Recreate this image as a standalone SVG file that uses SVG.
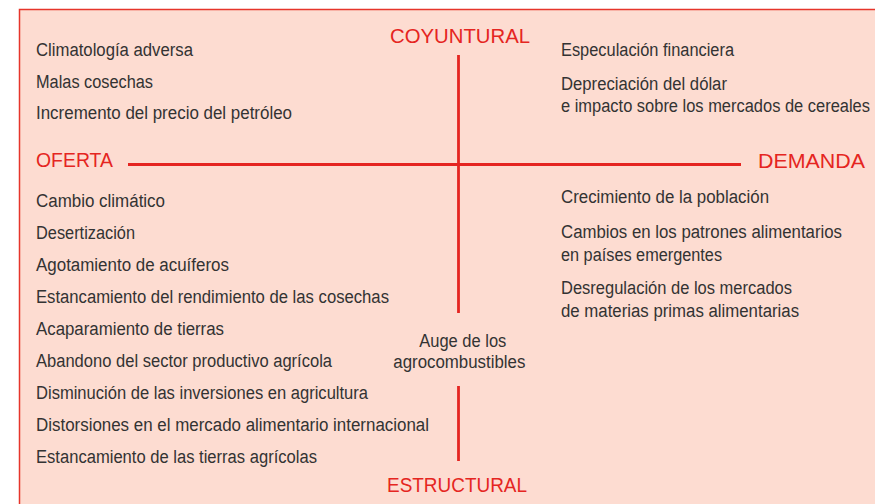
<svg xmlns="http://www.w3.org/2000/svg" width="875" height="504" viewBox="0 0 875 504">
<style>
.bg{fill:#fddcd1;stroke:#e6352b;stroke-width:1.5}
.t{font-family:"Liberation Sans",Arial,sans-serif;font-size:19px;fill:#333333}
.lab{font-family:"Liberation Sans",Arial,sans-serif;font-size:20.5px;fill:#e52521}
.axis{stroke:#e52521;stroke-width:2.8;fill:none}
</style>
<rect class="bg" x="19.5" y="9.5" width="870" height="510"/>
<g id="connectors">
<line class="axis" x1="128" y1="164.5" x2="741" y2="164.5"/>
<line class="axis" x1="458.5" y1="55" x2="458.5" y2="313"/>
<line class="axis" x1="458.5" y1="386" x2="458.5" y2="461"/>
</g>
<g id="coyuntural"><text class="lab" x="390" y="43" textLength="140" lengthAdjust="spacingAndGlyphs">COYUNTURAL</text></g>
<g id="oferta"><text class="lab" x="36" y="167" textLength="77" lengthAdjust="spacingAndGlyphs">OFERTA</text></g>
<g id="demanda"><text class="lab" x="758" y="168" textLength="107" lengthAdjust="spacingAndGlyphs">DEMANDA</text></g>
<g id="estructural"><text class="lab" x="387" y="492" textLength="140" lengthAdjust="spacingAndGlyphs">ESTRUCTURAL</text></g>
<g id="oferta-coyuntural" transform="translate(36 0) scale(0.88 1)">
<text class="t" x="0" y="56" textLength="178.4" lengthAdjust="spacingAndGlyphs">Climatología adversa</text>
<text class="t" x="0" y="88" textLength="133" lengthAdjust="spacingAndGlyphs">Malas cosechas</text>
<text class="t" x="0" y="119.5" textLength="290.9" lengthAdjust="spacingAndGlyphs">Incremento del precio del petróleo</text>
</g>
<g id="oferta-estructural" transform="translate(36 0) scale(0.88 1)">
<text class="t" x="0" y="207" textLength="146.6" lengthAdjust="spacingAndGlyphs">Cambio climático</text>
<text class="t" x="0" y="239" textLength="112.5" lengthAdjust="spacingAndGlyphs">Desertización</text>
<text class="t" x="0" y="271" textLength="219.3" lengthAdjust="spacingAndGlyphs">Agotamiento de acuíferos</text>
<text class="t" x="0" y="303" textLength="401.1" lengthAdjust="spacingAndGlyphs">Estancamiento del rendimiento de las cosechas</text>
<text class="t" x="0" y="335" textLength="213.6" lengthAdjust="spacingAndGlyphs">Acaparamiento de tierras</text>
<text class="t" x="0" y="367" textLength="336.4" lengthAdjust="spacingAndGlyphs">Abandono del sector productivo agrícola</text>
<text class="t" x="0" y="399" textLength="377.3" lengthAdjust="spacingAndGlyphs">Disminución de las inversiones en agricultura</text>
<text class="t" x="0" y="431" textLength="446.6" lengthAdjust="spacingAndGlyphs">Distorsiones en el mercado alimentario internacional</text>
<text class="t" x="0" y="463" textLength="319.3" lengthAdjust="spacingAndGlyphs">Estancamiento de las tierras agrícolas</text>
</g>
<g id="demanda-coyuntural" transform="translate(561 0) scale(0.88 1)">
<text class="t" x="0" y="56" textLength="196.6" lengthAdjust="spacingAndGlyphs">Especulación financiera</text>
<text class="t" x="0" y="90" textLength="188.6" lengthAdjust="spacingAndGlyphs">Depreciación del dólar</text>
<text class="t" x="0" y="112.5" textLength="351.1" lengthAdjust="spacingAndGlyphs">e impacto sobre los mercados de cereales</text>
</g>
<g id="demanda-estructural" transform="translate(561 0) scale(0.88 1)">
<text class="t" x="0" y="203" textLength="236.4" lengthAdjust="spacingAndGlyphs">Crecimiento de la población</text>
<text class="t" x="0" y="238.5" textLength="319.3" lengthAdjust="spacingAndGlyphs">Cambios en los patrones alimentarios</text>
<text class="t" x="0" y="261" textLength="183" lengthAdjust="spacingAndGlyphs">en países emergentes</text>
<text class="t" x="0" y="294" textLength="262.5" lengthAdjust="spacingAndGlyphs">Desregulación de los mercados</text>
<text class="t" x="0" y="317" textLength="270.5" lengthAdjust="spacingAndGlyphs">de materias primas alimentarias</text>
</g>
<g id="agrocombustibles" transform="translate(393.3 0) scale(0.88 1)">
<text class="t" x="29.5" y="347" textLength="98.9" lengthAdjust="spacingAndGlyphs">Auge de los</text>
<text class="t" x="0" y="368.5" textLength="150" lengthAdjust="spacingAndGlyphs">agrocombustibles</text>
</g>
</svg>
